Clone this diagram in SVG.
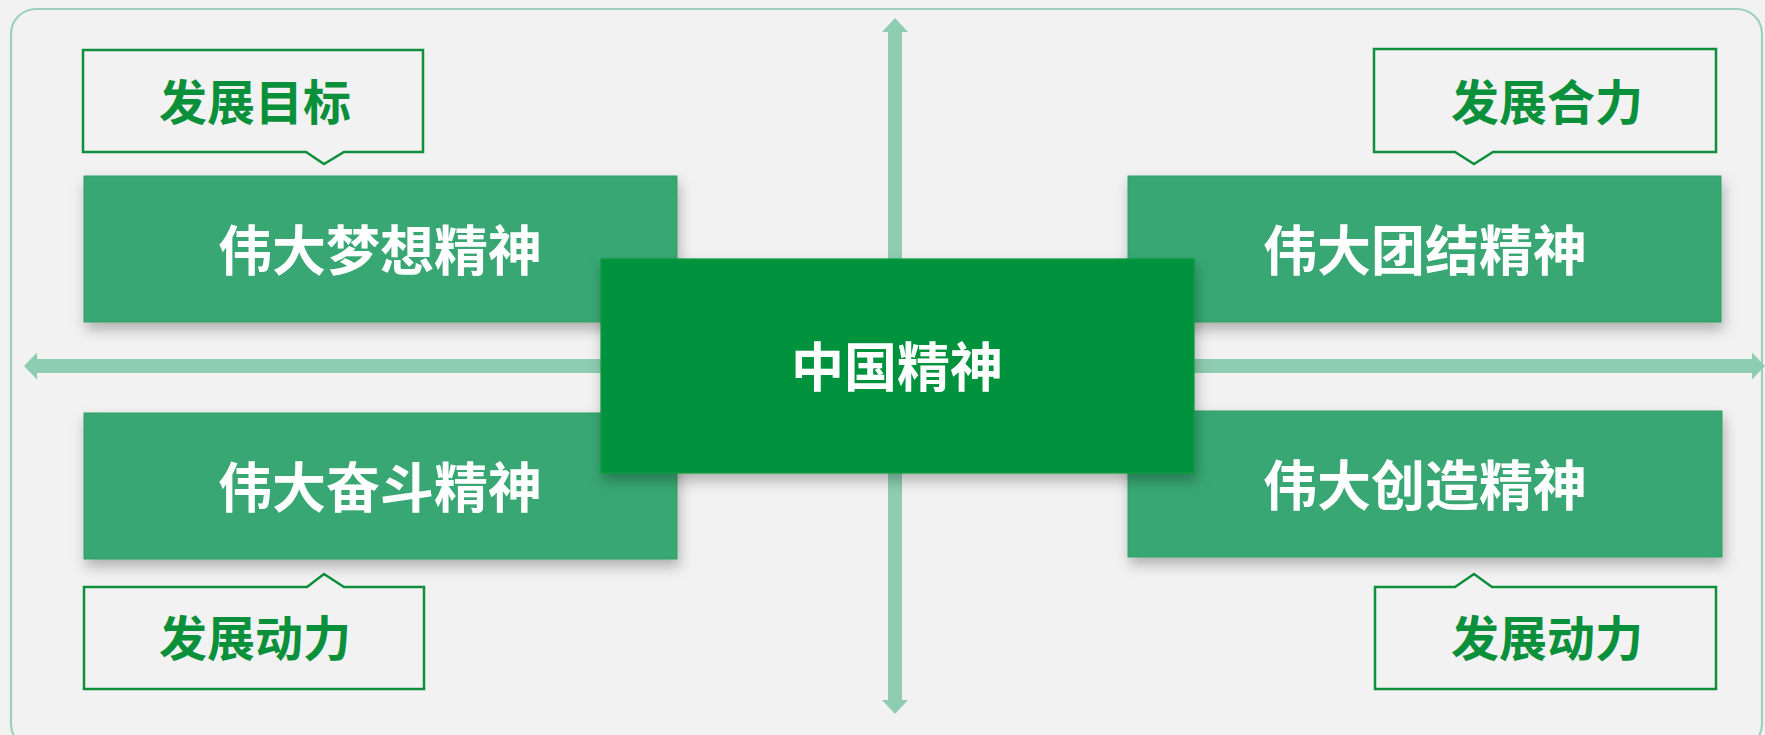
<svg xmlns="http://www.w3.org/2000/svg" width="1765" height="735" viewBox="0 0 1765 735">
  <defs>
    <filter id="sh" x="-10%" y="-20%" width="125%" height="150%">
      <feDropShadow dx="2" dy="7" stdDeviation="7" flood-color="#000" flood-opacity="0.28"/>
    </filter>
    <style>
      .bg { fill: #f2f2f2; }
      .frame { fill: none; stroke: #9dd2b9; stroke-width: 2.2; }
      .arrow { fill: #8ecdb1; }
      .card { fill: #37a773; stroke: #2f9f62; stroke-width: 1; filter: url(#sh); }
      .core { fill: #05923e; stroke: #0b9a3a; stroke-width: 1.2; filter: url(#sh); }
      .callout { fill: none; stroke: #0f8f3c; stroke-width: 2.5; }
      .t-card { font-family: "Noto Sans CJK SC", "Noto Sans", sans-serif; font-weight: 700; fill: #ffffff; text-anchor: middle; }
      .t-call { font-family: "Noto Sans CJK SC", "Noto Sans", sans-serif; font-weight: 700; fill: #0a8f3a; text-anchor: middle; font-size: 48px; }
    </style>
  </defs>

  <rect class="bg" x="0" y="0" width="1765" height="735"/>
  <rect class="frame" x="11" y="9" width="1751" height="740" rx="25" ry="25"/>

  <g id="connectors">
    <polygon class="arrow" points="24,366 37,352.5 37,359 1752,359 1752,352.5 1765,366 1752,379.5 1752,373 37,373 37,379.5"/>
    <polygon class="arrow" points="895,18 908,32 902,32 902,700 908,700 895,714 882,700 888,700 888,32 882,32"/>
  </g>

  <g id="callout-goal">
    <path class="callout" d="M83,50 H423 V152 H344 L324,164 L306,152 H83 Z"/>
    <text class="t-call" x="255" y="120">发展目标</text>
  </g>
  <g id="callout-unity">
    <path class="callout" d="M1374,49 H1716 V152 H1493 L1474,164 L1455,152 H1374 Z"/>
    <text class="t-call" x="1547" y="120">发展合力</text>
  </g>
  <g id="callout-drive-left">
    <path class="callout" d="M84,587 H307 L324,574 L344,587 H424 V689 H84 Z"/>
    <text class="t-call" x="255" y="656">发展动力</text>
  </g>
  <g id="callout-drive-right">
    <path class="callout" d="M1375,587 H1455 L1474,574 L1492,587 H1716 V689 H1375 Z"/>
    <text class="t-call" x="1547" y="656">发展动力</text>
  </g>

  <g id="node-dream">
    <rect class="card" x="84" y="176" width="593" height="146"/>
    <text class="t-card" x="380" y="271" font-size="54">伟大梦想精神</text>
  </g>
  <g id="node-unity">
    <rect class="card" x="1128" y="176" width="593" height="146"/>
    <text class="t-card" x="1425" y="271" font-size="54">伟大团结精神</text>
  </g>
  <g id="node-struggle">
    <rect class="card" x="84" y="413" width="593" height="146"/>
    <text class="t-card" x="380" y="508" font-size="54">伟大奋斗精神</text>
  </g>
  <g id="node-create">
    <rect class="card" x="1128" y="411" width="594" height="146"/>
    <text class="t-card" x="1425" y="506" font-size="54">伟大创造精神</text>
  </g>

  <g id="node-china">
    <rect class="core" x="601" y="259" width="593" height="214"/>
    <text class="t-card" x="897" y="387" font-size="53">中国精神</text>
  </g>
</svg>
